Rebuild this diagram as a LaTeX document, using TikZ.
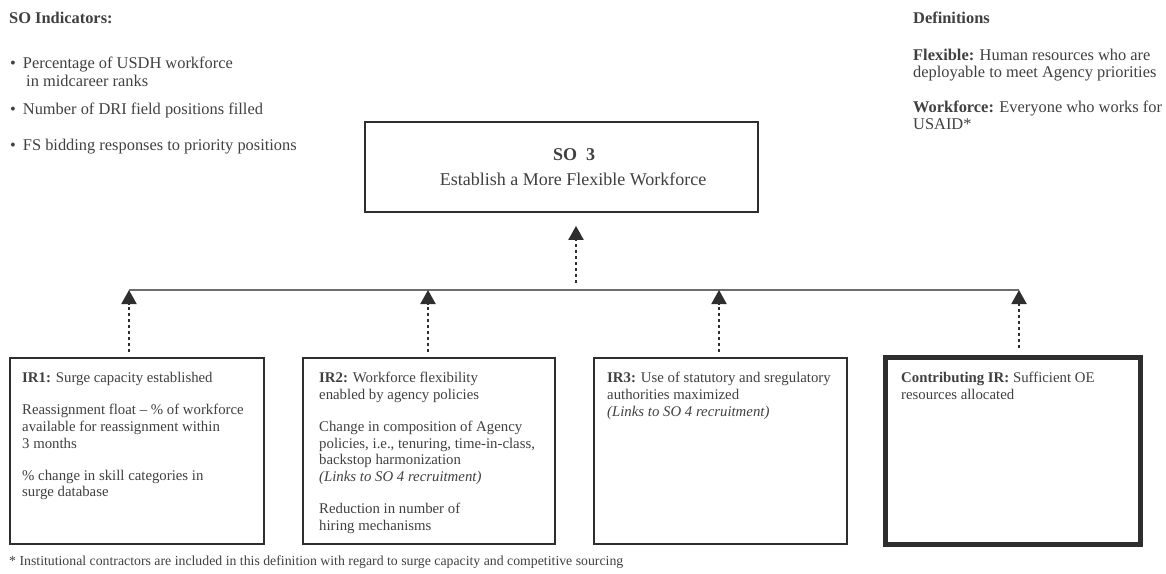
\documentclass[tikz,border=0pt]{standalone}
\usepackage{fontspec}
\setmainfont{Liberation Serif}
\usetikzlibrary{arrows.meta}
\definecolor{ink}{HTML}{404040}
\definecolor{frame}{HTML}{2E2E2E}
\definecolor{busline}{HTML}{6E6E6E}
\begin{document}
\begin{tikzpicture}[x=1pt,y=-1pt,
  boxtxt/.style={inner sep=0pt, anchor=north west, text=ink, align=left,
    font=\fontsize{14.8}{16.7}\selectfont},
  headtxt/.style={inner sep=0pt, anchor=base west, text=ink,
    font=\fontsize{16.4}{18}\selectfont},
  small/.style={inner sep=0pt, anchor=base west, text=ink,
    font=\fontsize{13.8}{16}\selectfont},
  sotxt/.style={inner sep=0pt, anchor=base, text=ink,
    font=\fontsize{18}{21}\selectfont},
  boxbase/.style={draw=frame, inner sep=0pt},
  irbox/.style={boxbase, line width=1.8pt, minimum height=186pt},
  contribbox/.style={boxbase, line width=5pt, minimum height=187pt, minimum width=255pt},
  sobox/.style={boxbase, line width=1.8pt, minimum width=393pt, minimum height=90pt},
  bus/.style={draw=busline, line width=1.1pt},
  dotarrow/.style={draw=frame, line width=2pt, dash pattern=on 3pt off 3pt,
    -{Triangle[width=15pt,length=14pt]}},
]
\useasboundingbox[fill=white] (0,0) rectangle (1166,573);

% --- indicator list (top left)
\node[headtxt] (indhead) at (9,23.5) {\textbf{SO Indicators:}};
\node[headtxt] (ind1) at (10,68) {\textbullet\hspace{7pt}Percentage of USDH workforce};
\node[headtxt] (ind1b) at (26,86) {in midcareer ranks};
\node[headtxt] (ind2) at (10,114) {\textbullet\hspace{7pt}Number of DRI field positions filled};
\node[headtxt] (ind3) at (10,150) {\textbullet\hspace{7pt}FS bidding responses to priority positions};

% --- definitions (top right)
\node[headtxt] (defhead) at (913,23.5) {\textbf{Definitions}};
\node[headtxt] (defflex) at (913,60) {\textbf{Flexible:} Human resources who are};
\node[headtxt] (defflexb) at (913,77) {deployable to meet Agency priorities};
\node[headtxt] (defwork) at (913,112) {\textbf{Workforce:} Everyone who works for};
\node[headtxt] (defworkb) at (913,129) {USAID*};

% --- strategic objective
\node[sobox] (so3) at (561.5,167) {};
\node[sotxt] (sotitle) at (574,160) {\textbf{SO\ \ 3}};
\node[sotxt] (sotext) at (573,185) {Establish a More Flexible Workforce};

% --- intermediate results
\node[irbox, minimum width=254pt] (ir1) at (137,451) {};
\node[irbox, minimum width=252pt] (ir2) at (429,451) {};
\node[irbox, minimum width=253pt] (ir3) at (720.5,451) {};
\node[contribbox] (ir4) at (1013,451) {};

\node[boxtxt] (ir1text) at (22,372) {\textbf{IR1:} Surge capacity established\\[15.5pt]
  Reassignment float -- \% of workforce\\available for reassignment within\\3 months\\[15.5pt]
  \% change in skill categories in\\surge database};
\node[boxtxt] (ir2text) at (319,372) {\textbf{IR2:} Workforce flexibility\\enabled by agency policies\\[15.5pt]
  Change in composition of Agency\\policies, i.e., tenuring, time-in-class,\\backstop harmonization\\
  \textit{(Links to SO 4 recruitment)}\\[15.5pt]
  Reduction in number of\\hiring mechanisms};
\node[boxtxt] (ir3text) at (607,372) {\textbf{IR3:} Use of statutory and sregulatory\\authorities maximized\\
  \textit{(Links to SO 4 recruitment)}};
\node[boxtxt] (ir4text) at (901,372) {\textbf{Contributing IR:} Sufficient OE\\resources allocated};

% --- connectors
\coordinate (tap0) at (576,290);
\coordinate (tap1) at (129,290);
\coordinate (tap2) at (428,290);
\coordinate (tap3) at (719,290);
\coordinate (tap4) at (1019,290);
\draw[bus] (tap1) -- (tap4);
\draw[dotarrow, shorten <=7pt, shorten >=13pt] (tap0) -- (tap0 |- so3.south);
\draw[dotarrow, shorten <=5pt] (tap1 |- ir1.north) -- (tap1);
\draw[dotarrow, shorten <=5pt] (tap2 |- ir2.north) -- (tap2);
\draw[dotarrow, shorten <=5pt] (tap3 |- ir3.north) -- (tap3);
\draw[dotarrow, shorten <=7pt] (tap4 |- ir4.north) -- (tap4);

% --- footnote
\node[small] (foot) at (9,565) {* Institutional contractors are included in this definition with regard to surge capacity and competitive sourcing};
\end{tikzpicture}
\end{document}
